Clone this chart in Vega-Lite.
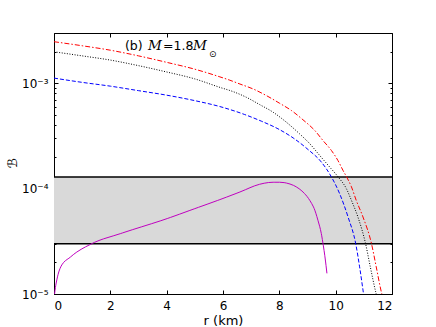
{
  "$schema": "https://vega.github.io/schema/vega-lite/v6.json",
  "autosize": {"type": "none"},
  "padding": {"left": 54, "top": 33, "right": 44, "bottom": 33},
  "width": 338,
  "height": 261,
  "background": "white",
  "config": {
    "view": {"stroke": null},
    "axis": {
      "labelFont": "DejaVu Sans", "labelFontSize": 12, "labelColor": "#000000",
      "titleFont": "DejaVu Sans", "titleFontSize": 12, "titleFontWeight": "normal", "titleColor": "#000000",
      "tickColor": "#000000", "domainColor": "#000000", "grid": false
    }
  },
  "datasets": {
    "band": [{"x0": 0, "x1": 12, "b0": 3.0e-5, "b1": 1.29e-4}],
    "edges": [{"b": 3.0e-5}, {"b": 1.29e-4}],
    "label": [{"tx": 2.52, "ty": 2.25e-3}],
    "curves": [
      {"s": "a", "r": 0, "B": 2.48e-3}, {"s": "a", "r": 1, "B": 2.27e-3}, {"s": "a", "r": 2, "B": 2.06e-3},
      {"s": "a", "r": 3, "B": 1.82e-3}, {"s": "a", "r": 4, "B": 1.58e-3}, {"s": "a", "r": 5, "B": 1.36e-3},
      {"s": "a", "r": 5.89, "B": 1.15e-3}, {"s": "a", "r": 6.24, "B": 1.07e-3}, {"s": "a", "r": 6.6, "B": 9.84e-4},
      {"s": "a", "r": 7.07, "B": 8.83e-4}, {"s": "a", "r": 7.54, "B": 7.64e-4}, {"s": "a", "r": 8.01, "B": 6.46e-4},
      {"s": "a", "r": 8.43, "B": 5.51e-4}, {"s": "a", "r": 8.84, "B": 4.50e-4}, {"s": "a", "r": 9.26, "B": 3.56e-4},
      {"s": "a", "r": 9.55, "B": 2.86e-4}, {"s": "a", "r": 9.85, "B": 2.30e-4}, {"s": "a", "r": 10.08, "B": 1.85e-4},
      {"s": "a", "r": 10.26, "B": 1.49e-4}, {"s": "a", "r": 10.41, "B": 1.26e-4}, {"s": "a", "r": 10.56, "B": 1.04e-4},
      {"s": "a", "r": 10.73, "B": 7.74e-5}, {"s": "a", "r": 10.97, "B": 5.38e-5}, {"s": "a", "r": 11.27, "B": 3.02e-5},
      {"s": "a", "r": 11.44, "B": 1.81e-5}, {"s": "a", "r": 11.62, "B": 1.05e-5}, {"s": "a", "r": 11.64, "B": 1.0e-5},
      {"s": "b", "r": 0, "B": 1.99e-3}, {"s": "b", "r": 1, "B": 1.82e-3}, {"s": "b", "r": 2, "B": 1.66e-3},
      {"s": "b", "r": 3, "B": 1.47e-3}, {"s": "b", "r": 4, "B": 1.28e-3}, {"s": "b", "r": 5, "B": 1.10e-3},
      {"s": "b", "r": 5.89, "B": 9.14e-4}, {"s": "b", "r": 6.36, "B": 8.33e-4}, {"s": "b", "r": 6.83, "B": 7.36e-4},
      {"s": "b", "r": 7.3, "B": 6.28e-4}, {"s": "b", "r": 7.78, "B": 5.31e-4}, {"s": "b", "r": 8.25, "B": 4.27e-4},
      {"s": "b", "r": 8.72, "B": 3.31e-4}, {"s": "b", "r": 9.08, "B": 2.67e-4}, {"s": "b", "r": 9.43, "B": 2.07e-4},
      {"s": "b", "r": 9.79, "B": 1.60e-4}, {"s": "b", "r": 10.1, "B": 1.28e-4}, {"s": "b", "r": 10.38, "B": 1.0e-4},
      {"s": "b", "r": 10.56, "B": 7.74e-5}, {"s": "b", "r": 10.79, "B": 5.38e-5}, {"s": "b", "r": 11.06, "B": 3.02e-5},
      {"s": "b", "r": 11.23, "B": 1.81e-5}, {"s": "b", "r": 11.42, "B": 1.05e-5}, {"s": "b", "r": 11.44, "B": 1.0e-5},
      {"s": "c", "r": 0, "B": 1.12e-3}, {"s": "c", "r": 1, "B": 1.02e-3}, {"s": "c", "r": 2, "B": 9.39e-4},
      {"s": "c", "r": 3, "B": 8.51e-4}, {"s": "c", "r": 4, "B": 7.71e-4}, {"s": "c", "r": 5, "B": 6.84e-4},
      {"s": "c", "r": 5.89, "B": 6.01e-4}, {"s": "c", "r": 6.77, "B": 5.05e-4}, {"s": "c", "r": 7.36, "B": 4.37e-4},
      {"s": "c", "r": 7.95, "B": 3.70e-4}, {"s": "c", "r": 8.49, "B": 3.03e-4}, {"s": "c", "r": 9.02, "B": 2.35e-4},
      {"s": "c", "r": 9.49, "B": 1.79e-4}, {"s": "c", "r": 9.85, "B": 1.29e-4}, {"s": "c", "r": 10.14, "B": 8.97e-5},
      {"s": "c", "r": 10.44, "B": 5.38e-5}, {"s": "c", "r": 10.71, "B": 3.02e-5}, {"s": "c", "r": 10.85, "B": 1.81e-5},
      {"s": "c", "r": 10.97, "B": 1.09e-5}, {"s": "c", "r": 10.99, "B": 1.0e-5},
      {"s": "d", "r": 0.02, "B": 1.0e-5}, {"s": "d", "r": 0.05, "B": 1.15e-5}, {"s": "d", "r": 0.1, "B": 1.36e-5},
      {"s": "d", "r": 0.24, "B": 1.81e-5}, {"s": "d", "r": 0.59, "B": 2.25e-5}, {"s": "d", "r": 1.36, "B": 3.02e-5},
      {"s": "d", "r": 2.37, "B": 3.75e-5}, {"s": "d", "r": 4.02, "B": 5.2e-5}, {"s": "d", "r": 5, "B": 6.46e-5},
      {"s": "d", "r": 5.89, "B": 7.87e-5}, {"s": "d", "r": 6.6, "B": 9.29e-5}, {"s": "d", "r": 7.3, "B": 1.10e-4},
      {"s": "d", "r": 7.78, "B": 1.15e-4}, {"s": "d", "r": 8.01, "B": 1.15e-4}, {"s": "d", "r": 8.25, "B": 1.13e-4},
      {"s": "d", "r": 8.6, "B": 1.04e-4}, {"s": "d", "r": 8.84, "B": 9.29e-5}, {"s": "d", "r": 9.08, "B": 7.74e-5},
      {"s": "d", "r": 9.26, "B": 6.24e-5}, {"s": "d", "r": 9.37, "B": 5.01e-5}, {"s": "d", "r": 9.49, "B": 3.75e-5},
      {"s": "d", "r": 9.55, "B": 3.02e-5}, {"s": "d", "r": 9.62, "B": 2.25e-5}, {"s": "d", "r": 9.69, "B": 1.57e-5}
    ]
  },
  "resolve": {"axis": {"x": "independent", "y": "independent"}},
  "layer": [
    {
      "data": {"name": "band"},
      "mark": {"type": "rect", "fill": "#d9d9d9"},
      "encoding": {
        "x": {"field": "x0", "type": "quantitative", "scale": {"domain": [0, 12], "nice": false, "zero": false},
              "axis": {"orient": "bottom", "values": [0, 2, 4, 6, 8, 10, 12], "tickSize": -4, "labelPadding": 10,
                       "title": "r (km)", "titleY": 26, "titleBaseline": "middle", "titleFontSize": 13}},
        "x2": {"field": "x1"},
        "y": {"field": "b0", "type": "quantitative", "scale": {"type": "log", "domain": [1e-5, 3e-3], "nice": false},
              "axis": {"orient": "left", "values": [1e-5, 1e-4, 1e-3], "tickSize": -4, "labelPadding": 10,
                       "labelExpr": "datum.value < 5e-5 ? '10⁻⁵' : datum.value < 5e-4 ? '10⁻⁴' : '10⁻³'",
                       "title": "ℬ", "titleX": -42, "titleY": 130, "titleBaseline": "middle", "titleFontSize": 13}},
        "y2": {"field": "b1"}
      }
    },
    {
      "data": {"name": "edges"},
      "mark": {"type": "rule", "stroke": "#000000", "strokeWidth": 1.6},
      "encoding": {
        "y": {"field": "b", "type": "quantitative",
              "axis": {"orient": "right", "values": [1e-5, 1e-4, 1e-3], "tickSize": -4, "labels": false, "title": null}}
      }
    },
    {
      "data": {"name": "curves"},
      "mark": {"type": "line", "strokeWidth": 1, "interpolate": "monotone"},
      "encoding": {
        "x": {"field": "r", "type": "quantitative",
              "axis": {"orient": "top", "values": [0, 2, 4, 6, 8, 10, 12], "tickSize": -4, "labels": false, "title": null}},
        "y": {"field": "B", "type": "quantitative",
              "axis": {"orient": "left", "values": [2e-5, 3e-5, 4e-5, 5e-5, 6e-5, 7e-5, 8e-5, 9e-5, 2e-4, 3e-4, 4e-4, 5e-4, 6e-4, 7e-4, 8e-4, 9e-4, 2e-3],
                       "tickSize": -2, "labels": false, "title": null}},
        "color": {"field": "s", "type": "nominal", "legend": null,
                  "scale": {"domain": ["a", "b", "c", "d"], "range": ["#ff0000", "#000000", "#0000ff", "#bf00bf"]}},
        "strokeDash": {"field": "s", "type": "nominal", "legend": null,
                       "scale": {"domain": ["a", "b", "c", "d"], "range": [[5, 2, 1.5, 2], [1, 1.6], [4, 2], [10, 0]]}},
        "order": {"field": "r", "type": "quantitative"}
      }
    },
    {
      "data": {"name": "label"},
      "encoding": {
        "x": {"field": "tx", "type": "quantitative", "axis": null},
        "y": {"field": "ty", "type": "quantitative",
              "axis": {"orient": "right", "values": [2e-5, 3e-5, 4e-5, 5e-5, 6e-5, 7e-5, 8e-5, 9e-5, 2e-4, 3e-4, 4e-4, 5e-4, 6e-4, 7e-4, 8e-4, 9e-4, 2e-3],
                       "tickSize": -2, "labels": false, "title": null}}
      },
      "layer": [
        {"mark": {"type": "text", "text": "(b)", "align": "left", "baseline": "middle", "font": "DejaVu Sans", "fontSize": 12.5, "color": "#000000"}},
        {"mark": {"type": "text", "text": "M", "align": "left", "baseline": "middle", "dx": 23, "font": "DejaVu Serif", "fontStyle": "italic", "fontSize": 13.5, "color": "#000000"}},
        {"mark": {"type": "text", "text": "=1.8", "align": "left", "baseline": "middle", "dx": 38, "font": "DejaVu Sans", "fontSize": 12.5, "color": "#000000"}},
        {"mark": {"type": "text", "text": "M", "align": "left", "baseline": "middle", "dx": 68, "font": "DejaVu Serif", "fontStyle": "italic", "fontSize": 13.5, "color": "#000000"}},
        {"mark": {"type": "text", "text": "⊙", "align": "left", "baseline": "middle", "dx": 84, "dy": 8, "font": "DejaVu Sans", "fontSize": 9, "color": "#000000"}}
      ]
    }
  ]
}
